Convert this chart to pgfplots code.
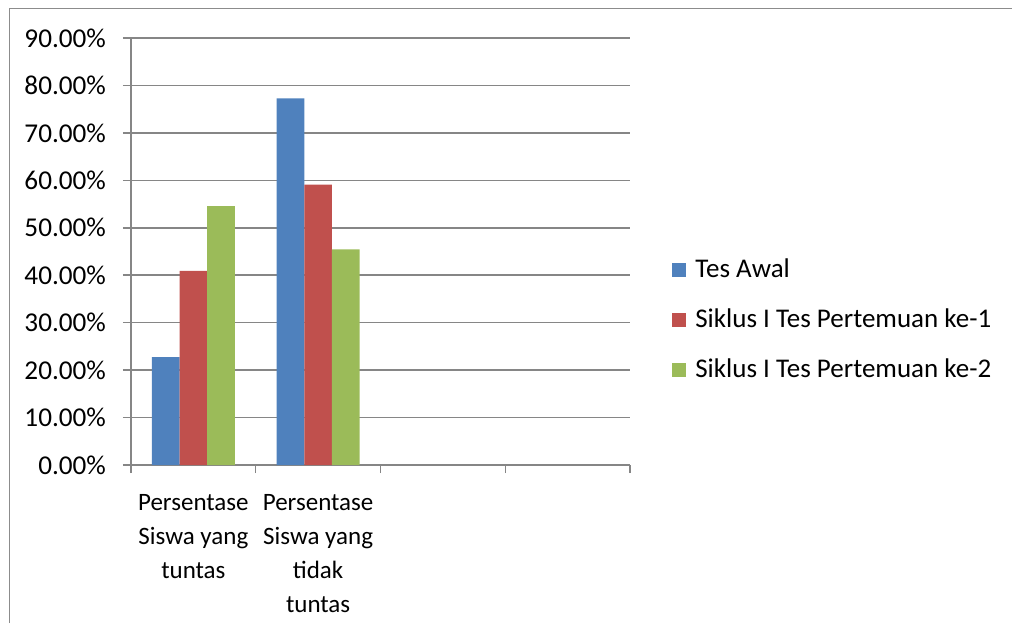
\documentclass[border=0pt]{standalone}
\usepackage{pgfplots}
\pgfplotsset{compat=1.18}
\usepackage{fontspec}
\setmainfont{Carlito}
\definecolor{sblue}{HTML}{4F81BD}
\definecolor{sred}{HTML}{C0504D}
\definecolor{sgreen}{HTML}{9BBB59}
\definecolor{gline}{HTML}{868686}
\definecolor{frame}{HTML}{8C8C8C}
\begin{document}
\begin{tikzpicture}[x=0.5pt,y=0.5pt]
\useasboundingbox (-131,-158) rectangle (881,465);
\draw[frame,line width=0.8pt] (-121.5,-158) -- (-121.5,456.5) -- (881,456.5);
\begin{axis}[
  scale only axis, width=249.5pt, height=213.5pt,
  ybar=0pt, bar width=0.2222,
  xmin=-0.5, xmax=3.5, ymin=0, ymax=90,
  axis lines*=left,
  axis line style={gline, line width=0.75pt},
  ymajorgrids, grid style={gline, line width=0.75pt},
  ytick={0,10,...,90},
  yticklabel={\hbox{\fontsize{13.6}{15}\selectfont\pgfmathprintnumber[fixed,fixed zerofill,precision=2,assume math mode=true]{\tick}\%}},
  /pgf/number format/assume math mode=true,
  tick align=outside,
  major tick length=4pt, minor tick length=4pt,
  tick style={gline, line width=0.75pt},
  xtick={0,1},
  xticklabels={{Persentase\\Siswa yang\\tuntas},{Persentase\\Siswa yang\\tidak\\tuntas}},
  major x tick style={draw=none},
  minor xtick={-0.5,0.5,1.5,2.5,3.5},
  xticklabel style={align=center, font=\fontsize{12.5}{17}\selectfont, text=black, yshift=-7pt},
  yticklabel style={text=black, xshift=-5pt},
  legend style={at={(1.084,0.34)}, anchor=west, draw=none, fill=none,
    font=\fontsize{13.5}{15}\selectfont, row sep=12pt, inner sep=0pt,
    nodes={inner sep=1pt}},
  legend cell align=left,
  legend image code/.code={\fill[#1] (0pt,-3.5pt) rectangle (7pt,3.5pt); \path (10.5pt,0pt);},
]
\addplot[fill=sblue, draw=none] coordinates {(0,22.73) (1,77.27)};
\addplot[fill=sred, draw=none] coordinates {(0,40.91) (1,59.09)};
\addplot[fill=sgreen, draw=none] coordinates {(0,54.55) (1,45.45)};
\legend{Tes Awal, Siklus I Tes Pertemuan ke-1, Siklus I Tes Pertemuan ke-2}
\end{axis}
\end{tikzpicture}
\end{document}
